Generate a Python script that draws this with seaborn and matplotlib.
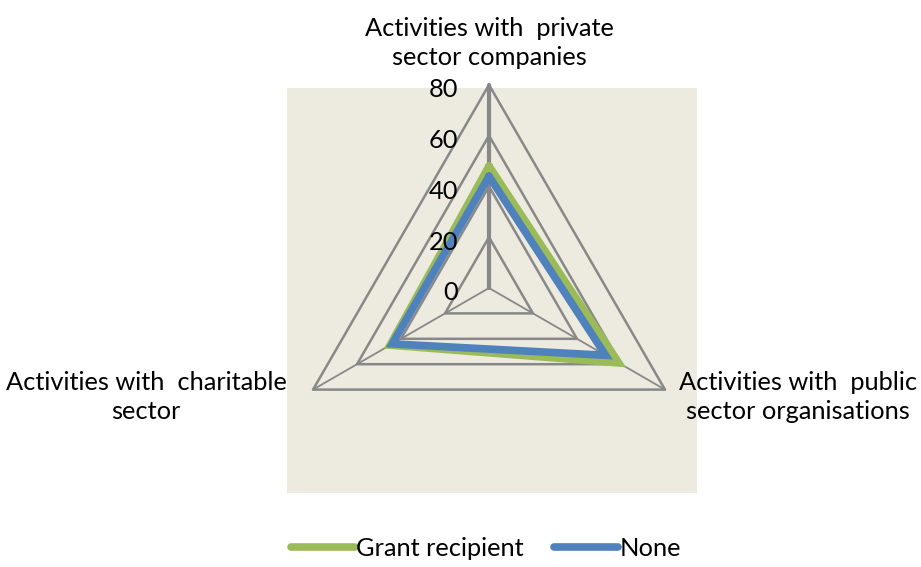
import numpy as np
import pandas as pd
import matplotlib
matplotlib.use("Agg")
import matplotlib.pyplot as plt
import matplotlib.transforms as mtransforms
from matplotlib.lines import Line2D
import seaborn as sns

categories = ["Activities with  private\nsector companies",
              "Activities with  public\nsector organisations",
              "Activities with  charitable\nsector"]
grant_recipient = [48, 59, 45]
none_values = [44, 53, 44]
series_names = ["Grant recipient", "None"]
tick_values = [0, 20, 40, 60, 80]

sns.set_style("white")
plt.rcParams["font.family"] = ["Lato", "DejaVu Sans"]
plt.rcParams["text.color"] = "black"

FS = 18.3
W, H = 921, 567
fig = plt.figure(figsize=(W / 100, H / 100), dpi=100)
fig.patch.set_facecolor("white")

# axes = beige plot area (pixel box 287..697 x 88..493)
ax = fig.add_axes([287 / W, (H - 493) / H, 410 / W, 405 / H])
ax.set_facecolor("#EDEBE0")
scale = 2.54  # px per unit
cx, cy = 489, 288
ax.set_xlim((287 - cx) / scale, (697 - cx) / scale)
ax.set_ylim(-(493 - cy) / scale, (cy - 88) / scale)
for s in ax.spines.values():
    s.set_visible(False)
ax.set_xticks([])
ax.set_yticks([])

angles = np.deg2rad([90, -30, 210])
vmax = tick_values[-1]

# grid triangles
grid_col = "#888888"
for t in tick_values[1:]:
    xs = np.append(t * np.cos(angles), t * np.cos(angles[0]))
    ys = np.append(t * np.sin(angles), t * np.sin(angles[0]))
    ax.plot(xs, ys, color=grid_col, lw=1.8, clip_on=False, zorder=1)
# spokes
for i, a in enumerate(angles):
    ax.plot([0, vmax * np.cos(a)], [0, vmax * np.sin(a)], color=grid_col,
            lw=3.0 if i == 0 else 1.3, clip_on=False, zorder=1)

# data
rows = []
for name, vals in zip(series_names, [grant_recipient, none_values]):
    v = list(vals) + [vals[0]]
    a = list(angles) + [angles[0]]
    for k, (val, ang) in enumerate(zip(v, a)):
        rows.append({"series": name, "order": k,
                     "x": val * np.cos(ang), "y": val * np.sin(ang)})
df = pd.DataFrame(rows)
palette = {"Grant recipient": "#9BBB59", "None": "#4F81BD"}
sns.lineplot(data=df, x="x", y="y", hue="series", palette=palette, sort=False,
             estimator=None, units="series", lw=5.5, ax=ax, legend=False,
             zorder=3)
for line in ax.get_lines()[-2:]:
    line.set_solid_joinstyle("miter")
    line.set_clip_on(False)
ax.set_xlabel("")
ax.set_ylabel("")

# tick labels
off = mtransforms.offset_copy(ax.transData, fig=fig, x=-31, y=-5, units="dots")
for t in tick_values:
    ax.text(0, t, str(t), ha="right", va="center", fontsize=FS,
            transform=off, color="black")

# category labels (figure pixel coords)
def fpx(x, y):
    return x / W, 1 - y / H
fig.text(*fpx(489, 43), categories[0], ha="center", va="center",
         fontsize=FS, linespacing=1.35)
fig.text(*fpx(798, 397), categories[1], ha="center", va="center",
         fontsize=FS, linespacing=1.35)
fig.text(*fpx(146, 397), categories[2], ha="center", va="center",
         fontsize=FS, linespacing=1.35)

handles = [Line2D([0], [0], color=palette[n], lw=5.5) for n in series_names]
fig.legend(handles, series_names, loc="center", bbox_to_anchor=fpx(486, 548),
           ncol=2, frameon=False, fontsize=FS, handlelength=2.5,
           handletextpad=0.05, columnspacing=1.2)

fig.savefig("out.png", dpi=100, facecolor="white")
